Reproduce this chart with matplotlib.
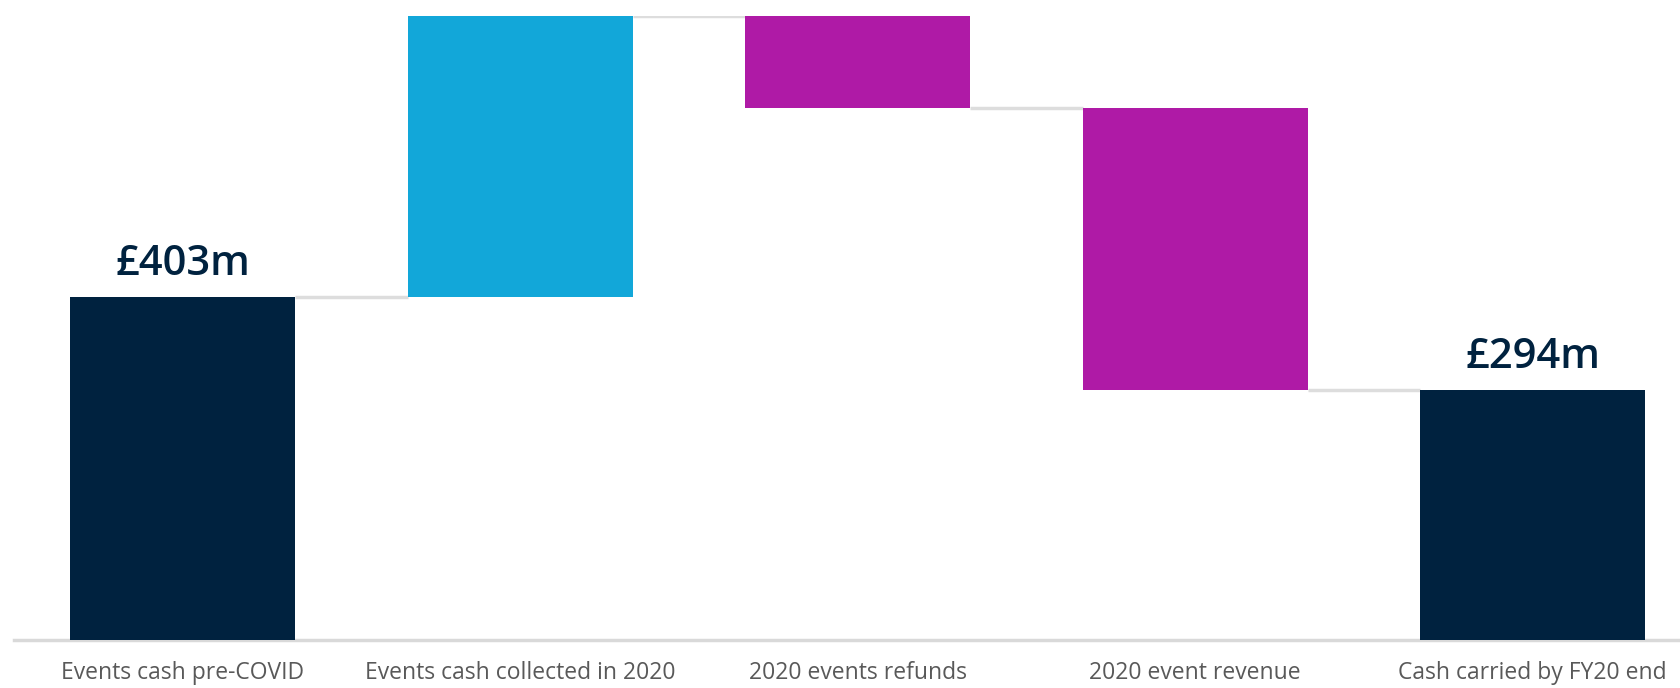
import numpy as np
import matplotlib
matplotlib.use('Agg')
import matplotlib.pyplot as plt

categories = ["Events cash pre-COVID", "Events cash collected in 2020",
              "2020 events refunds", "2020 event revenue", "Cash carried by FY20 end"]
start_value = 403
changes = [330, -108, -331]
end_value = 294
total_labels = ["£403m", "£294m"]

NAVY = "#00223F"
CYAN = "#12A7D9"
MAGENTA = "#AF1AA6"

# bottoms / heights for the waterfall
levels = [start_value]
for c in changes:
    levels.append(levels[-1] + c)
bottoms = [0]
heights = [start_value]
colors = [NAVY]
for i, c in enumerate(changes):
    lo = min(levels[i], levels[i + 1])
    bottoms.append(lo)
    heights.append(abs(c))
    colors.append(CYAN if c > 0 else MAGENTA)
bottoms.append(0)
heights.append(end_value)
colors.append(NAVY)

fig = plt.figure(figsize=(16.81, 6.88), dpi=100)
ax = fig.add_axes([14 / 1681, 48 / 688, 1667 / 1681, 624 / 688])
x = np.arange(len(categories))
w = 0.667
ax.bar(x, heights, width=w, bottom=bottoms, color=colors, zorder=3)

# connectors
conn = levels + [end_value]
for i in range(len(categories) - 1):
    ax.plot([x[i] + w / 2, x[i + 1] - w / 2], [conn[i], conn[i]],
            color="#dddddd", lw=2.5, zorder=2, solid_capstyle="butt")

ax.text(x[0], start_value + 14, total_labels[0], ha="center", va="bottom",
        fontsize=30, fontweight="semibold", family="Open Sans", color=NAVY)
ax.text(x[-1], end_value + 14, total_labels[1], ha="center", va="bottom",
        fontsize=30, fontweight="semibold", family="Open Sans", color=NAVY)

ax.set_xlim(-0.5, 4.44)
ax.set_ylim(0, 733)
for s in ["top", "right", "left"]:
    ax.spines[s].set_visible(False)
ax.spines["bottom"].set_color("#d9d9d9")
ax.spines["bottom"].set_linewidth(2.5)
ax.set_yticks([])
ax.set_xticks(x)
ax.set_xticklabels(categories, fontsize=16.5, family="Open Sans", color="#595959")
ax.tick_params(axis="x", length=0, pad=15)

fig.savefig("out.png", dpi=100)
